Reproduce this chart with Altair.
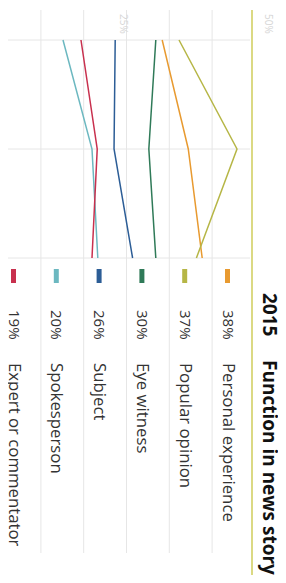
import altair as alt
import pandas as pd

years = [2013, 2014, 2015]
categories = ["Personal experience", "Popular opinion", "Eye witness",
              "Subject", "Spokesperson", "Expert or commentator"]
colors = ["#e89a30", "#b6b646", "#2f7a58", "#2c5d96", "#6cb8c0", "#c8304e"]
personal = [31.1, 35.6, 38]
popular = [34.0, 44.0, 37]
eye_witness = [30.0, 28.8, 30]
subject = [23.0, 22.8, 26]
spokesperson = [14.0, 19.0, 20]
expert = [17.1, 19.9, 19]
latest_pct = ["38%", "37%", "30%", "26%", "20%", "19%"]
value_ticks = [25, 50]
value_tick_labels = ["25%", "50%"]
title_year = "2015"
title_text = "Function in news story"

series = [personal, popular, eye_witness, subject, spokesperson, expert]
rows = []
for cat, vals in zip(categories, series):
    for yr, v in zip(years, vals):
        rows.append({"category": cat, "year": yr, "value": v})
df = pd.DataFrame(rows)

n = len(categories)
leg = pd.DataFrame({"category": categories,
                    "idx": [n - 1 - i for i in range(n)],
                    "pct": latest_pct})
sep = pd.DataFrame({"s": [i + 0.64 for i in range(n - 1)]})
ticks = pd.DataFrame({"v": value_ticks, "lab": value_tick_labels})

xval = alt.Scale(domain=[5, 45], range=[2.8, 234.8], zero=False, nice=False)
yyear = alt.Scale(domain=[years[0], years[-1]], range=[32, 250], zero=False, nice=False)
xleg = alt.Scale(domain=[0, n - 1], range=[5.5, 219.5], zero=False, nice=False)
cscale = alt.Scale(domain=categories, range=colors)

separators = alt.Chart(sep).mark_rule(color="#e6e6e6", strokeWidth=1).encode(
    x=alt.X("s:Q", scale=xleg, axis=None),
    y=alt.value(2), y2=alt.value(545))

yeargrid = alt.Chart(pd.DataFrame({"year": years})).mark_rule(
    color="#e6e6e6", strokeWidth=1).encode(
    y=alt.Y("year:Q", scale=yyear, axis=None),
    x=alt.value(0), x2=alt.value(242))

goldline = alt.Chart(pd.DataFrame({"a": [0]})).mark_rule(
    color="#cfcc5a", strokeWidth=1.5).encode(
    x=alt.value(244), y=alt.value(2), y2=alt.value(575))

tick_text = alt.Chart(ticks).mark_text(
    angle=90, align="left", baseline="middle", fontSize=10, dy=4,
    font="Open Sans", color="#d6d6d6").encode(
    x=alt.X("v:Q", scale=xval, axis=None),
    y=alt.value(6), text="lab:N")

lines = alt.Chart(df).mark_line(strokeWidth=1.5).encode(
    x=alt.X("value:Q", scale=xval, axis=None),
    y=alt.Y("year:Q", scale=yyear, axis=None),
    color=alt.Color("category:N", scale=cscale, legend=None),
    order="year:Q")

swatch = alt.Chart(leg).mark_rule(strokeWidth=5).encode(
    x=alt.X("idx:Q", scale=xleg, axis=None),
    y=alt.value(261), y2=alt.value(275),
    color=alt.Color("category:N", scale=cscale, legend=None))

pct_text = alt.Chart(leg).mark_text(
    angle=90, align="left", baseline="middle", fontSize=15,
    font="Open Sans", color="#333333").encode(
    x=alt.X("idx:Q", scale=xleg, axis=None),
    y=alt.value(302), text="pct:N")

label_text = alt.Chart(leg).mark_text(
    angle=90, align="left", baseline="middle", fontSize=16.8,
    font="Open Sans", color="#333333").encode(
    x=alt.X("idx:Q", scale=xleg, axis=None),
    y=alt.value(355), text="category:N")

t_year = alt.Chart(pd.DataFrame({"t": [title_year]})).mark_text(
    angle=90, align="left", baseline="middle", fontSize=19,
    font="Open Sans", fontWeight="bold", color="#111111").encode(
    x=alt.value(261), y=alt.value(285), text="t:N")

t_text = alt.Chart(pd.DataFrame({"t": [title_text]})).mark_text(
    angle=90, align="left", baseline="middle", fontSize=19,
    font="Open Sans", fontWeight="bold", color="#111111").encode(
    x=alt.value(261), y=alt.value(352), text="t:N")

chart = alt.layer(
    separators, yeargrid, goldline, tick_text, lines,
    swatch, pct_text, label_text, t_year, t_text
).resolve_scale(x="independent").properties(
    width=270, height=567, padding=0,
    autosize=alt.AutoSizeParams(type="none")
).configure_view(stroke=None)

chart.save("out.html", embed_options={"renderer": "svg", "actions": False})
